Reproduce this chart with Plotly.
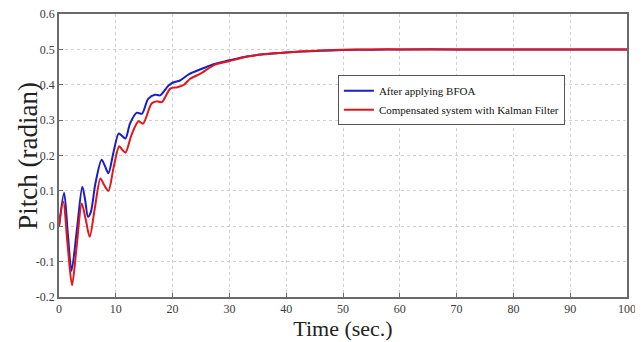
import plotly.graph_objects as go

# Time (s) and pitch (rad)
t_bfoa = [0, 0.9, 1.55, 2.2, 3.15, 4.1, 4.6, 5.1, 5.6, 6.4, 7.5, 8.1, 8.7, 9.6, 10.5, 11.0, 11.7,
          12.5, 13.7, 14.6, 15.7, 16.9, 17.8, 19.3, 20.2, 21.3, 22.9, 24.8, 27.2, 30, 33, 36, 39,
          42.5, 46, 50, 55, 60, 70, 80, 90, 100]
pitch_bfoa = [0.0, 0.095, -0.02, -0.126, -0.01, 0.112, 0.075, 0.027, 0.04, 0.12, 0.188, 0.17, 0.15,
              0.21, 0.262, 0.257, 0.248, 0.29, 0.321, 0.318, 0.36, 0.372, 0.37, 0.398, 0.407, 0.412,
              0.43, 0.443, 0.458, 0.469, 0.48, 0.486, 0.49, 0.494, 0.496, 0.498, 0.499, 0.5, 0.5,
              0.5, 0.5, 0.5]

t_kalman = [0, 0.76, 1.5, 2.3, 3.15, 4.0, 4.7, 5.4, 6.3, 7.3, 8.0, 8.7, 9.6, 10.6, 11.2, 11.7, 12.8,
            14.0, 14.8, 16.3, 17.2, 18.1, 19.6, 20.8, 22.0, 23.1, 25, 27.2, 30, 33, 36, 39, 42.5,
            46, 50, 55, 60, 70, 80, 90, 100]
pitch_kalman = [0.0, 0.069, -0.05, -0.167, -0.05, 0.064, 0.02, -0.03, 0.05, 0.135, 0.115, 0.10,
                0.165, 0.226, 0.215, 0.208, 0.26, 0.297, 0.29, 0.347, 0.353, 0.351, 0.389, 0.393,
                0.40, 0.417, 0.432, 0.455, 0.467, 0.479, 0.486, 0.49, 0.494, 0.497, 0.499, 0.5,
                0.5, 0.5, 0.5, 0.5, 0.5]

x_ticks = [0, 10, 20, 30, 40, 50, 60, 70, 80, 90, 100]
y_ticks = [-0.2, -0.1, 0, 0.1, 0.2, 0.3, 0.4, 0.5, 0.6]
y_tick_text = ["-0.2", "-0.1", "0", "0.1", "0.2", "0.3", "0.4", "0.5", "0.6"]

font_family = "Liberation Serif"

fig = go.Figure()
fig.add_trace(go.Scatter(x=t_bfoa, y=pitch_bfoa, mode="lines", name="After applying BFOA",
                         line=dict(color="#1c1cc8", width=2, shape="spline", smoothing=0.8)))
fig.add_trace(go.Scatter(x=t_kalman, y=pitch_kalman, mode="lines",
                         name="Compensated system with Kalman Filter",
                         line=dict(color="#e01818", width=2, shape="spline", smoothing=0.8)))

axis_common = dict(
    showline=True, mirror=True, linecolor="#6a6a6a", linewidth=1.5,
    showgrid=True, gridcolor="#d0d0d0", griddash="dot", gridwidth=1,
    ticks="inside", ticklen=4, tickcolor="#6a6a6a", automargin=False,
    ticklabeloverflow="allow",
    zeroline=False, tickfont=dict(family=font_family, size=12, color="#3a3a3a"),
)

# page body has an 8px margin, so the figure is sized to fit the 643x342 window
fig.update_layout(
    width=635, height=334,
    margin=dict(l=51, r=16, t=6, b=45),
    paper_bgcolor="white", plot_bgcolor="white",
    font=dict(family=font_family, color="#222222"),
    xaxis=dict(range=[0, 100], tickvals=x_ticks,
               title=dict(text="Time (sec.)", font=dict(family=font_family, size=22), standoff=2),
               **axis_common),
    yaxis=dict(range=[-0.2, 0.6], tickvals=y_ticks, ticktext=y_tick_text, **axis_common),
    legend=dict(x=0.491, y=0.784, xanchor="left", yanchor="top",
                bgcolor="white", bordercolor="#555555", borderwidth=1,
                font=dict(family=font_family, size=11, color="#111111"),
                tracegroupgap=0, itemwidth=30),
    showlegend=True,
    annotations=[dict(text="Pitch (radian)", textangle=-90, xref="paper", yref="paper",
                      x=-0.056, y=0.5, xanchor="center", yanchor="middle", showarrow=False,
                      font=dict(family=font_family, size=27, color="#222222"))],
)

fig.write_html("out.html")
